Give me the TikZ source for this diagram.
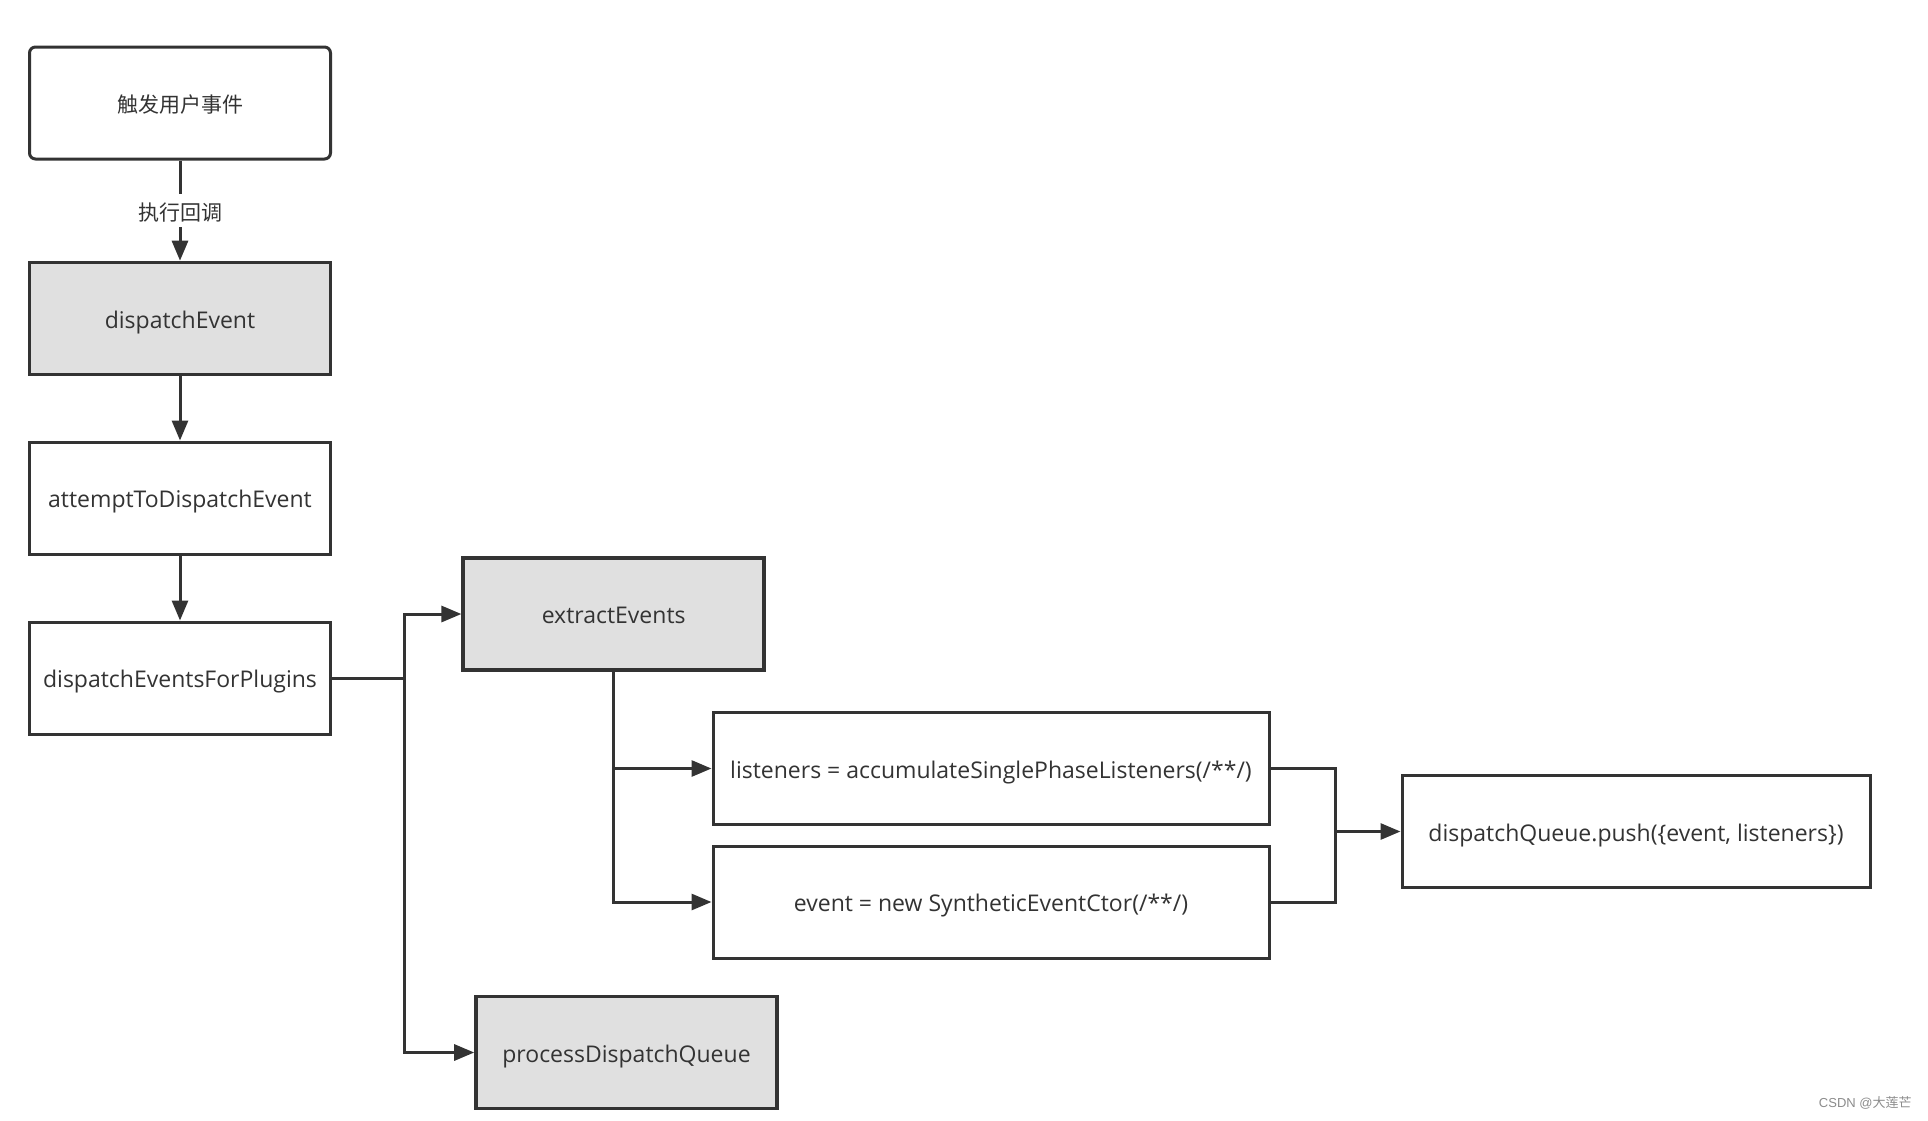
\documentclass[tikz,border=0pt]{standalone}
\usepackage{fontspec}
\setmainfont{Open Sans}
\newfontfamily\cjk{Noto Sans CJK SC}
\newfontfamily\wm{Liberation Sans}
\usetikzlibrary{arrows.meta}
\definecolor{ink}{HTML}{333333}
\definecolor{boxgray}{HTML}{E0E0E0}
\begin{document}
\begin{tikzpicture}[x=0.5pt,y=-0.5pt,
  box/.style={draw=ink,line width=1.5pt,fill=white,text=ink,minimum height=56pt,
    minimum width=150.5pt,inner sep=0pt,text height=11pt,text depth=1.5pt,
    font=\fontsize{11.5}{13}\selectfont},
  graybox/.style={box,fill=boxgray,line width=1.8pt},
  conn/.style={draw=ink,line width=1.5pt},
  arr/.style={conn,-{Triangle[length=10pt,width=8pt]}}]
\path[use as bounding box,fill=white] (0,0) rectangle (1928,1120);
\node[box,rounded corners=3pt,font=\cjk\fontsize{10.5}{13}\selectfont] (n1) at (180,103) {触发用户事件};
\node[graybox] (de) at (180,318.5) {dispatchEvent};
\node[box] (at) at (180,498) {attemptToDispatchEvent};
\node[box] (pl) at (180,678) {dispatchEventsForPlugins};
\node[graybox] (ex) at (613.7,614) {extractEvents};
\node[box,minimum width=278pt] (li) at (991,768.5) {listeners = accumulateSinglePhaseListeners(/**/)};
\node[box,minimum width=278pt] (ev) at (991,902) {event = new SyntheticEventCtor(/**/)};
\node[box,minimum width=234pt] (dq) at (1636,831.5) {dispatchQueue.push(\{event, listeners\})};
\node[graybox] (pq) at (626.5,1052.5) {processDispatchQueue};
\coordinate (b1) at (404.5,678);
\coordinate (j1) at (1335,831.5);
\draw[arr] (n1) -- node[fill=white,text=ink,inner sep=2pt,text height=11pt,text depth=1.5pt,font=\cjk\fontsize{10.5}{13}\selectfont] (lab) {执行回调} (de);
\draw[arr] (de) -- (at);
\draw[arr] (at) -- (pl);
\draw[conn] (pl.east) -- (b1);
\draw[arr] (b1) |- (ex.west);
\draw[arr] (b1) |- (pq.west);
\draw[arr] (ex.south) |- (li.west);
\draw[arr] (ex.south) |- (ev.west);
\draw[conn] (li.east) -| (j1);
\draw[conn] (ev.east) -| (j1);
\draw[arr] (j1) -- (dq.west);
\node[text=black!45,font=\wm\fontsize{6.5}{8}\selectfont,anchor=east,inner sep=0pt] (wm) at (1912,1103) {CSDN @{\cjk 大莲芒}};
\end{tikzpicture}
\end{document}
